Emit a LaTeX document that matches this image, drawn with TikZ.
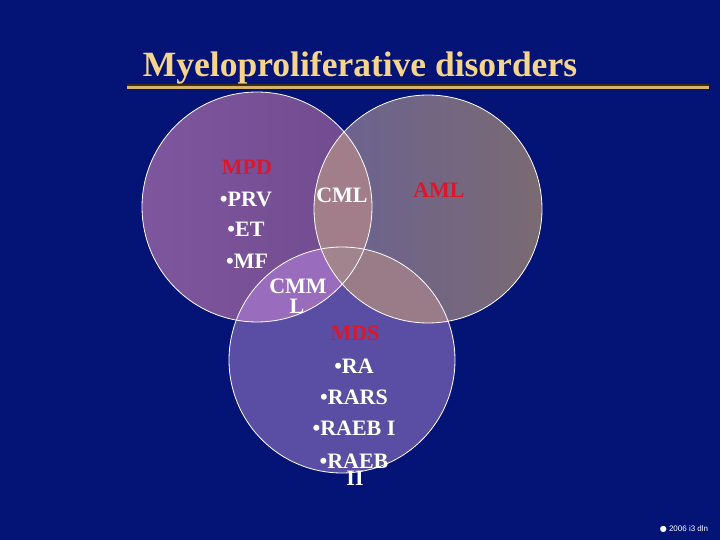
\documentclass[tikz,border=0pt]{standalone}
\usepackage{fontspec}
\setmainfont{Liberation Serif}
\newfontfamily\sansf{Liberation Sans}
\newfontfamily\symf{DejaVu Sans}
\definecolor{bg}{RGB}{4,20,118}
\definecolor{titlegold}{RGB}{246,212,140}
\definecolor{redlbl}{RGB}{222,22,44}
\definecolor{Aone}{RGB}{126,86,158}
\definecolor{Atwo}{RGB}{112,74,142}
\definecolor{Bone}{RGB}{106,98,148}
\definecolor{Btwo}{RGB}{122,106,114}
\definecolor{Cfill}{RGB}{90,78,164}
\definecolor{ABfill}{RGB}{162,126,138}
\definecolor{ACfill}{RGB}{154,108,190}
\definecolor{BCfill}{RGB}{154,124,136}
\definecolor{ABCfill}{RGB}{162,132,142}
\definecolor{barshadow}{RGB}{60,44,20}
\definecolor{bargold}{RGB}{214,180,110}
\begin{document}
\begin{tikzpicture}[x=1bp,y=-1bp,
  lbl/.style={text=white,font=\bfseries\fontsize{22bp}{22bp}\selectfont,anchor=base,inner sep=0pt},
  redlabel/.style={lbl,text=redlbl},
  ring/.style={draw=white,line width=0.8bp}]
\fill[bg] (0,0) rectangle (720,540);
\useasboundingbox (0,0) rectangle (720,540);
% title
\node[anchor=base,inner sep=0pt,text=titlegold,font=\bfseries\fontsize{35.5bp}{36bp}\selectfont] (title) at (360,77) {Myeloproliferative disorders};
\fill[barshadow] (127,84.3) rectangle (709,86);
\fill[bargold] (127,86) rectangle (709,89);
% circles
\coordinate (cA) at (257,207);
\coordinate (cB) at (428,209);
\coordinate (cC) at (342,360);
\shade[left color=Aone,right color=Atwo] (cA) circle[radius=115];
\shade[left color=Bone,right color=Btwo] (cB) circle[radius=114];
\fill[Cfill] (cC) circle[radius=113];
\begin{scope}
  \clip (cA) circle[radius=115];
  \fill[ABfill] (cB) circle[radius=114];
\end{scope}
\begin{scope}
  \clip (cA) circle[radius=115];
  \fill[ACfill] (cC) circle[radius=113];
\end{scope}
\begin{scope}
  \clip (cB) circle[radius=114];
  \fill[BCfill] (cC) circle[radius=113];
\end{scope}
\begin{scope}
  \clip (cA) circle[radius=115];
  \clip (cB) circle[radius=114];
  \fill[ABCfill] (cC) circle[radius=113];
\end{scope}
\draw[ring] (cA) circle[radius=115];
\draw[ring] (cB) circle[radius=114];
\draw[ring] (cC) circle[radius=113];
% labels
\node[redlabel] (mpd) at (247,175) {MPD};
\node[lbl] (prv) at (246,207) {•PRV};
\node[lbl] (et) at (246,237) {•ET};
\node[lbl] (mf) at (247,269) {•MF};
\node[lbl] (cml) at (342,203) {CML};
\node[redlabel] (aml) at (439,198) {AML};
\node[lbl] (cmm) at (298,293) {CMM};
\node[lbl] (cmml) at (297,313) {L};
\node[redlabel] (mds) at (355,340) {MDS};
\node[lbl] (ra) at (354,373) {•RA};
\node[lbl] (rars) at (354,404) {•RARS};
\node[lbl] (raeb1) at (354,435) {•RAEB I};
\node[lbl] (raeb2) at (354,468) {•RAEB};
\node[lbl] (raebii) at (355,485) {II};
% copyright
\node[anchor=base,inner sep=0pt,text=white,font=\sansf\fontsize{8bp}{8bp}\selectfont] (copy) at (684,531) {{\symf●} 2006 i3 dln};
\end{tikzpicture}
\end{document}
